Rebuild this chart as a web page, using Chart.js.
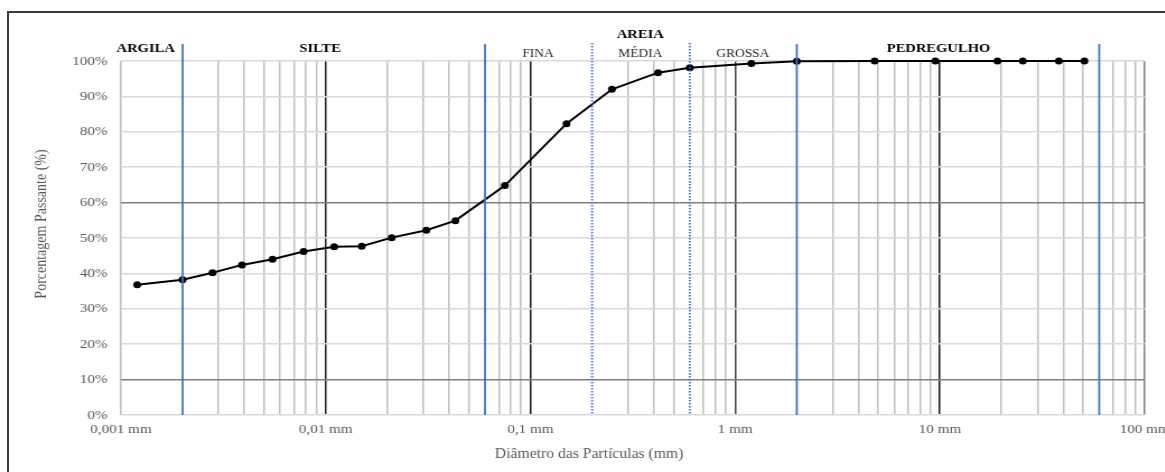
<!DOCTYPE html>
<html>
<head>
<meta charset="utf-8">
<title>Curva granulométrica</title>
<script src="https://cdn.jsdelivr.net/npm/chart.js@4.4.1/dist/chart.umd.min.js"></script>
<style>
    html, body { margin: 0; padding: 0; background: #fff; overflow: hidden; }
    body { width: 1165px; height: 472px; position: relative; }
    #frame {
        position: absolute; left: 7px; top: 11px; width: 1300px; height: 600px;
        border-left: 2px solid #3b3b3b; border-top: 2px solid #3b3b3b;
    }
    /* the reference picture is stretched horizontally, so is this one */
    #wrap {
        position: absolute; left: 0; top: 0; width: 1046px; height: 472px;
        transform: scaleX(1.12); transform-origin: 0 0;
    }
</style>
</head>
<body>
<div id="frame"></div>
<div id="wrap"><canvas id="granChart"></canvas></div>
<script>
// particle diameters (mm) and percentage passing
const diameters = [0.0012, 0.002, 0.0028, 0.0039, 0.0055, 0.0078, 0.011, 0.015, 0.021, 0.031, 0.043,
                   0.075, 0.15, 0.25, 0.42, 0.6, 1.2, 2.0, 4.8, 9.5, 19.1, 25.4, 38.1, 50.8];
const passing = [36.8, 38.2, 40.2, 42.4, 44.0, 46.2, 47.5, 47.7, 50.1, 52.2, 54.9,
                 64.8, 82.3, 92.0, 96.7, 98.1, 99.3, 99.9, 100, 100, 100, 100, 100, 100];

// x axis decades and their labels
const decadeValues = [0.001, 0.01, 0.1, 1, 10, 100];
const decadeLabels = ['0,001 mm', '0,01 mm', '0,1 mm', '1 mm', '10 mm', '100 mm'];

// soil classification limits (mm)
const solidLimits = [0.002, 0.06, 2, 60];
const dottedLimits = [0.2, 0.6];

// classification names and the diameter they are centred on
const zoneNames = ['ARGILA', 'SILTE', 'AREIA', 'PEDREGULHO'];
const zoneAnchors = [0.00132, 0.0094, 0.344, 9.84];
const sandNames = ['FINA', 'MÉDIA', 'GROSSA'];
const sandAnchors = [0.109, 0.344, 1.09];

const xTitle = 'Diâmetro das Partículas (mm)';
const yTitle = 'Porcentagem Passante (%)';

const SERIF = '"Liberation Serif", "Times New Roman", serif';
const BLUE = '#4472c4';

// 1..9 x every decade, used for the log grid lines
const xTicks = [];
decadeValues.slice(0, -1).forEach(d => {
    for (let m = 1; m < 10; m++) xTicks.push(+(d * m).toPrecision(3));
});
xTicks.push(100);

function near(a, b) {
    return Math.abs(a - b) / b < 1e-6;
}

function xGridColor(ctx) {
    const v = ctx.tick ? ctx.tick.value : 0;
    if (solidLimits.concat(dottedLimits).some(l => near(v, l))) return 'rgba(0,0,0,0)';
    if (near(v, 1)) return '#404040';
    if (near(v, 100)) return '#7f7f7f';
    if ([0.01, 0.1, 10].some(d => near(v, d))) return '#1a1a1a';
    return '#bfbfbf';
}

function yGridColor(ctx) {
    const v = ctx.tick ? ctx.tick.value : 0;
    return (v === 60 || v === 10) ? '#808080' : '#d9d9d9';
}

/**
 * Draws the blue classification limits, the zone names and the axis titles.
 */
const zonePlugin = {
    id: 'zones',
    afterDatasetsDraw(chart) {
        const { ctx, chartArea } = chart;
        const x = chart.scales.x;
        const top = 44;

        ctx.save();
        ctx.strokeStyle = BLUE;
        ctx.lineWidth = 1.8;
        solidLimits.forEach(v => {
            const px = x.getPixelForValue(v);
            ctx.beginPath();
            ctx.moveTo(px, top);
            ctx.lineTo(px, chartArea.bottom);
            ctx.stroke();
        });
        ctx.setLineDash([1.5, 1.5]);
        dottedLimits.forEach(v => {
            const px = x.getPixelForValue(v);
            ctx.beginPath();
            ctx.moveTo(px, top - 1);
            ctx.lineTo(px, chartArea.bottom);
            ctx.stroke();
        });
        ctx.restore();
    },
    afterDraw(chart) {
        const { ctx } = chart;
        const x = chart.scales.x;

        ctx.save();
        ctx.textAlign = 'center';
        ctx.textBaseline = 'alphabetic';

        ctx.fillStyle = '#000';
        ctx.font = 'bold 13px ' + SERIF;
        zoneNames.forEach((name, i) => {
            const y = name === 'AREIA' ? 37.5 : 51.5;
            ctx.fillText(name, x.getPixelForValue(zoneAnchors[i]), y);
        });

        ctx.fillStyle = '#262626';
        ctx.font = '12px ' + SERIF;
        sandNames.forEach((name, i) => {
            ctx.fillText(name, x.getPixelForValue(sandAnchors[i]), 56.5);
        });

        // axis titles
        ctx.fillStyle = '#595959';
        ctx.font = '14px ' + SERIF;
        ctx.fillText(xTitle, 526, 458);

        ctx.translate(40.5, 224);
        ctx.rotate(-Math.PI / 2);
        ctx.fillText(yTitle, 0, 0);
        ctx.restore();
    }
};

const ctx = document.getElementById('granChart').getContext('2d');

new Chart(ctx, {
    type: 'scatter',
    data: {
        datasets: [{
            label: 'Curva granulométrica',
            data: diameters.map((d, i) => ({ x: d, y: passing[i] })),
            showLine: true,
            borderColor: '#000',
            borderWidth: 2,
            pointRadius: 3.5,
            pointBackgroundColor: '#000',
            pointBorderColor: '#000',
            pointBorderWidth: 0,
            tension: 0,
            clip: false,
        }],
    },
    options: {
        responsive: true,
        maintainAspectRatio: false,
        animation: false,
        layout: {
            padding: { left: 12, right: 24, top: 61, bottom: 0 },
        },
        scales: {
            x: {
                type: 'logarithmic',
                min: 0.001,
                max: 100,
                bounds: 'data',
                afterBuildTicks: (scale) => {
                    scale.ticks = xTicks.map(v => ({ value: v }));
                },
                afterFit: (scale) => {
                    scale.height = 57;
                    scale.paddingLeft = 0;
                    scale.paddingRight = 0;
                },
                border: { display: false },
                grid: {
                    drawTicks: false,
                    color: xGridColor,
                    lineWidth: 1.5,
                },
                ticks: {
                    autoSkip: false,
                    maxRotation: 0,
                    padding: 6,
                    color: '#595959',
                    font: { family: SERIF, size: 13.5 },
                    callback: (value) => {
                        const i = decadeValues.findIndex(d => near(value, d));
                        return i >= 0 ? decadeLabels[i] : '';
                    },
                },
            },
            y: {
                min: 0,
                max: 100,
                afterFit: (scale) => {
                    scale.width = 96;
                },
                border: { display: false },
                grid: {
                    drawTicks: false,
                    color: yGridColor,
                    lineWidth: 1.5,
                },
                ticks: {
                    stepSize: 10,
                    padding: 12,
                    color: '#595959',
                    font: { family: SERIF, size: 13.5 },
                    callback: (value) => value + '%',
                },
            },
        },
        plugins: {
            legend: { display: false },
            tooltip: { enabled: false },
        },
    },
    plugins: [zonePlugin],
});
</script>
</body>
</html>
